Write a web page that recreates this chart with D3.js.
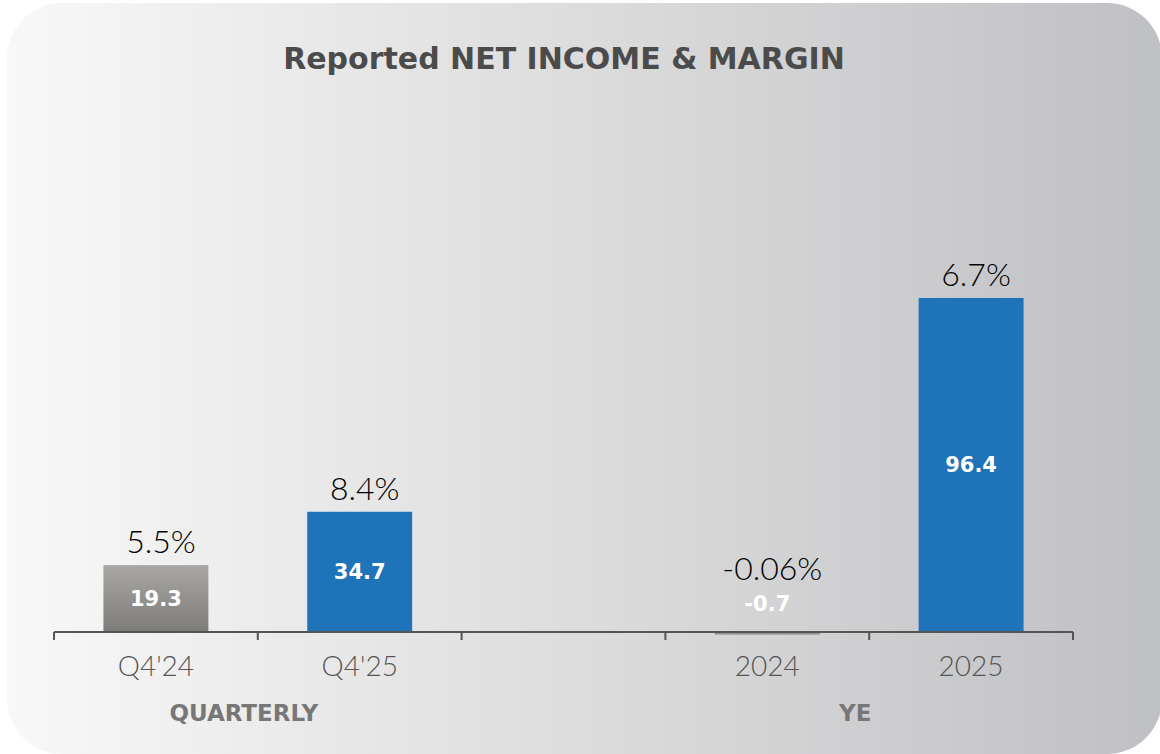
<!DOCTYPE html>
<html>
<head>
<meta charset="utf-8">
<script src="https://cdn.jsdelivr.net/npm/d3@7"></script>
<style>
    body { margin: 0; background: #fff; }
    svg { display: block; }
</style>
</head>
<body>
<div id="chart"></div>
<script>
// 数据
var categories = ["Q4'24", "Q4'25", "", "2024", "2025"];
var netIncome = [19.3, 34.7, null, -0.7, 96.4];
var margins = ["5.5%", "8.4%", "", "-0.06%", "6.7%"];
var valueLabels = ["19.3", "34.7", "", "-0.7", "96.4"];
var barKinds = ["prior", "current", "", "prior", "current"];
var groups = [
    {label: "QUARTERLY", from: "Q4'24", to: "Q4'25"},
    {label: "YE", from: "2024", to: "2025"}
];

var W = 1160, H = 754;
var margin = {top: 100, right: 87, bottom: 122, left: 54},
    width = W - margin.left - margin.right,
    height = H - margin.top - margin.bottom;

var svg = d3.select("#chart").append("svg")
    .attr("width", W)
    .attr("height", H);

var defs = svg.append("defs");
var bg = defs.append("linearGradient").attr("id", "bgGrad")
    .attr("x1", "0%").attr("x2", "100%").attr("y1", "0%").attr("y2", "0%");
bg.append("stop").attr("offset", "0%").attr("stop-color", "#f8f8f8");
bg.append("stop").attr("offset", "50%").attr("stop-color", "#dcdcdc");
bg.append("stop").attr("offset", "100%").attr("stop-color", "#bfc0c4");

var grayGrad = defs.append("linearGradient").attr("id", "grayGrad")
    .attr("x1", "0%").attr("x2", "0%").attr("y1", "0%").attr("y2", "100%");
grayGrad.append("stop").attr("offset", "0%").attr("stop-color", "#a9a7a4");
grayGrad.append("stop").attr("offset", "100%").attr("stop-color", "#7e7c79");

// 背景圆角矩形
svg.append("rect")
    .attr("x", 7).attr("y", 3)
    .attr("width", 1155).attr("height", 751)
    .attr("rx", 55).attr("ry", 55)
    .attr("fill", "url(#bgGrad)");

// 标题
svg.append("text")
    .attr("x", 564).attr("y", 69)
    .attr("text-anchor", "middle")
    .attr("font-family", "'DejaVu Sans', sans-serif")
    .attr("font-weight", "bold")
    .attr("font-size", 30)
    .attr("fill", "#4b4b4b")
    .text("Reported NET INCOME & MARGIN");

var g = svg.append("g")
    .attr("transform", "translate(" + margin.left + "," + margin.top + ")");

var xScale = d3.scaleBand()
    .domain(categories)
    .range([0, width])
    .paddingInner(0)
    .paddingOuter(0);

var yScale = d3.scaleLinear()
    .domain([-1, 96.4 * 1.0])
    .range([height + 3.47, height - 96.4 * 3.465]);

var y0 = yScale(0);
var barW = xScale.bandwidth() * 0.515;

var data = categories.map(function (c, i) {
    return {cat: c, v: netIncome[i], m: margins[i], lbl: valueLabels[i], kind: barKinds[i]};
}).filter(function (d) { return d.v !== null; });

// 柱子
g.selectAll("rect.bar")
    .data(data)
    .enter()
    .append("rect")
    .attr("class", "bar")
    .attr("x", function (d) { return xScale(d.cat) + (xScale.bandwidth() - barW) / 2; })
    .attr("y", function (d) { return d.v >= 0 ? yScale(d.v) : y0; })
    .attr("width", barW)
    .attr("height", function (d) { return Math.abs(yScale(d.v) - y0); })
    .attr("fill", function (d) { return d.kind == "prior" ? "url(#grayGrad)" : "#1f73b9"; });

// x轴
var axis = g.append("g")
    .attr("transform", "translate(0," + y0 + ")")
    .call(d3.axisBottom(xScale).tickSize(0).tickPadding(24));
axis.select(".domain").remove();
axis.append("line")
    .attr("x1", 0).attr("x2", width)
    .attr("y1", 0).attr("y2", 0)
    .attr("stroke", "#555").attr("stroke-width", 2);
var bounds = categories.map(function (c) { return xScale(c); }).concat([width]);
axis.selectAll("line.sep")
    .data(bounds)
    .enter()
    .append("line")
    .attr("class", "sep")
    .attr("x1", function (d) { return d; }).attr("x2", function (d) { return d; })
    .attr("y1", 0).attr("y2", 8)
    .attr("stroke", "#555").attr("stroke-width", 2);
axis.selectAll(".tick text")
    .attr("font-family", "'Lato', sans-serif")
    .attr("font-weight", 300)
    .attr("font-size", 28)
    .attr("fill", "#555")
    .attr("dy", "0.71em");

// 利润率标签
g.selectAll("text.margin")
    .data(data)
    .enter()
    .append("text")
    .attr("class", "margin")
    .attr("x", function (d) { return xScale(d.cat) + xScale.bandwidth() / 2 + 5; })
    .attr("y", function (d) { return Math.min(yScale(Math.max(d.v, 0)), y0 - 40) - 12; })
    .attr("text-anchor", "middle")
    .attr("font-family", "'Lato', sans-serif")
    .attr("font-weight", 300)
    .attr("font-size", 32)
    .attr("fill", "#000")
    .text(function (d) { return d.m; });

// 柱内数值
g.selectAll("text.val")
    .data(data)
    .enter()
    .append("text")
    .attr("class", "val")
    .attr("x", function (d) { return xScale(d.cat) + xScale.bandwidth() / 2; })
    .attr("y", function (d) { return d.v >= 0 ? (yScale(d.v) + y0) / 2 : y0 - 28; })
    .attr("dy", "0.35em")
    .attr("text-anchor", "middle")
    .attr("font-family", "'DejaVu Sans', sans-serif")
    .attr("font-weight", "bold")
    .attr("font-size", 21)
    .attr("fill", "#fff")
    .text(function (d) { return d.lbl; });

// 分组标签
g.selectAll("text.group")
    .data(groups)
    .enter()
    .append("text")
    .attr("class", "group")
    .attr("x", function (d) {
        return (xScale(d.from) + xScale(d.to) + xScale.bandwidth()) / 2 - 14;
    })
    .attr("y", y0 + 89)
    .attr("text-anchor", "middle")
    .attr("font-family", "'DejaVu Sans', sans-serif")
    .attr("font-weight", "bold")
    .attr("font-size", 23)
    .attr("fill", "#777")
    .text(function (d) { return d.label; });
</script>
</body>
</html>
